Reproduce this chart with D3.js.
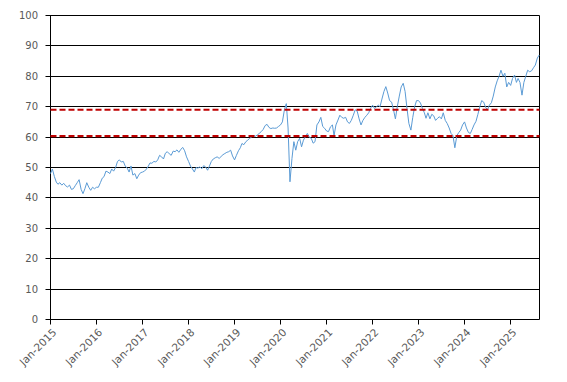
<!DOCTYPE html>
<html>
<head>
<meta charset="utf-8">
<script src="https://cdn.jsdelivr.net/npm/d3@7/dist/d3.min.js"></script>
<style>
  html, body { margin: 0; padding: 0; background: #fff; }
  svg { display: block; }
  text { font-family: "DejaVu Sans", Verdana, sans-serif; font-size: 10px; fill: #595959; }
  .xlab { font-size: 10.5px; }
</style>
</head>
<body>
<svg id="chart" width="567" height="382"></svg>
<script>
// ---- data (semi-monthly readings: 1st and 16th of each month) ----
const years = [2015, 2016, 2017, 2018, 2019, 2020, 2021, 2022, 2023, 2024, 2025];
const v2015 = [48, 49.5, 47, 45.2, 44.5, 45, 44.2, 44.8, 44, 43.6, 44.2, 42.8, 43, 44, 45, 46, 42.8, 41.4, 43, 45, 43.5, 42.5, 43.5, 43];
const v2016 = [43.5, 43.5, 45, 46.5, 47, 48.8, 48.5, 48, 49.5, 48.8, 50, 52, 52.5, 51.8, 52, 50.5, 49.8, 48.5, 50.5, 47.5, 48, 46.3, 47.5, 48.3];
const v2017 = [48.5, 48.8, 49.5, 50.5, 51.5, 51.4, 52, 51.8, 52.5, 54, 53.5, 52.8, 54.7, 55.2, 54.5, 54, 55.4, 55.2, 55.8, 55, 56, 56.6, 55.5, 53.5];
const v2018 = [52, 50.5, 49.5, 48.5, 50, 49.8, 50.2, 49.6, 50.6, 50.2, 49.1, 50.5, 52, 52.8, 53.2, 53.5, 53, 53.6, 54.2, 54.6, 55, 55.2, 55.7, 53.8];
const v2019 = [52.5, 54, 55.5, 56.5, 57.9, 57.5, 58.5, 59, 59.6, 60, 60.5, 60.3, 60.7, 61.2, 61.8, 62.5, 63.8, 64.2, 63.2, 62.8, 63, 62.9, 63, 63.5];
const v2020 = [64, 65, 69, 71, 63, 45.3, 53, 58.5, 55.7, 58.5, 59.6, 56.8, 59, 60.1, 61.2, 60, 59.6, 58, 58.5, 64, 65, 66.5, 63.5, 62.9];
const v2021 = [62, 61.8, 63.4, 64, 60.5, 64, 65.6, 67.2, 66.5, 66.2, 66.5, 65, 64.5, 65.5, 67.2, 69, 68.5, 66, 64, 65.5, 66.5, 67.2, 68, 69.5];
const v2022 = [70.5, 69.4, 70, 70.5, 70, 72.5, 75, 76.6, 74.5, 72, 71.5, 69, 66, 70, 73.5, 76.5, 77.7, 75, 69.5, 64.5, 62.3, 66.5, 70, 72];
const v2023 = [72, 71.2, 69.4, 68, 66.2, 68, 66, 67.5, 67, 65.5, 66.2, 66.7, 66, 68, 65.5, 64.5, 63, 61.2, 60.5, 56.5, 60.5, 61.5, 62.3, 64];
const v2024 = [65, 63, 61.5, 61.2, 62.5, 64, 65.2, 67.5, 70, 72, 71.5, 69.8, 69, 70.5, 71.3, 73.5, 76.5, 78.5, 80, 82, 80, 81, 76.5, 78];
const v2025 = [77, 79.3, 80.4, 78, 79.3, 78, 73.8, 78, 80, 82, 81.5, 81.8, 82.8, 83.7, 86, 87];
const yearValues = [v2015, v2016, v2017, v2018, v2019, v2020, v2021, v2022, v2023, v2024, v2025];

const refLevels = [69.0, 60.3];           // dashed red reference lines
const yTicks = [0, 10, 20, 30, 40, 50, 60, 70, 80, 90, 100];
const xTickLabels = ["Jan-2015", "Jan-2016", "Jan-2017", "Jan-2018", "Jan-2019", "Jan-2020",
                     "Jan-2021", "Jan-2022", "Jan-2023", "Jan-2024", "Jan-2025"];

// ---- build series ----
const series = [];
years.forEach((yr, k) => {
  yearValues[k].forEach((v, i) => {
    series.push({ date: new Date(yr, Math.floor(i / 2), i % 2 ? 16 : 1), value: v });
  });
});
const parseTick = d3.timeParse("%b-%Y");
const tickDates = xTickLabels.map(parseTick);

// ---- layout ----
const svg = d3.select("#chart");
const pL = 50.5, pR = 539.5, pT = 15.5, pB = 319.5;

const x = d3.scaleTime().domain([new Date(2015, 0, 1), new Date(2025, 7, 18)]).range([pL, pR]);
const y = d3.scaleLinear().domain([0, 100]).range([pB, pT]);
const ry = v => Math.round(y(v) - 0.5) + 0.5;
const rx = d => Math.round(x(d) - 0.5) + 0.5;

// gridlines
svg.append("g").selectAll("line").data(yTicks).join("line")
  .attr("x1", pL - 5).attr("x2", pR)
  .attr("y1", d => ry(d)).attr("y2", d => ry(d))
  .attr("stroke", "#000").attr("stroke-width", 1);

// y labels
svg.append("g").selectAll("text").data(yTicks).join("text")
  .attr("x", 38).attr("y", d => y(d)).attr("dy", "0.35em")
  .attr("text-anchor", "end").text(d => d);

// left axis & right border
svg.append("line").attr("x1", pL).attr("x2", pL).attr("y1", pT).attr("y2", pB)
  .attr("stroke", "#000");
svg.append("line").attr("x1", pR).attr("x2", pR).attr("y1", pT).attr("y2", pB)
  .attr("stroke", "#000");

// x axis ticks + labels
const xg = svg.append("g");
xg.selectAll("line").data(tickDates).join("line")
  .attr("x1", rx).attr("x2", rx)
  .attr("y1", pB).attr("y2", pB + 5)
  .attr("stroke", "#000");
xg.selectAll("text").data(tickDates).join("text")
  .attr("class", "xlab")
  .attr("transform", d => `translate(${x(d) + 4},${pB + 11}) rotate(-45)`)
  .attr("text-anchor", "end").attr("dy", "0.35em")
  .text(d3.timeFormat("%b-%Y"));

// data line
const line = d3.line().x(d => x(d.date)).y(d => y(d.value));
svg.append("path").datum(series)
  .attr("d", line).attr("fill", "none")
  .attr("stroke", "#5B9BD5").attr("stroke-width", 1).attr("stroke-linejoin", "round");

// reference lines
svg.append("g").selectAll("line").data(refLevels).join("line")
  .attr("x1", pL).attr("x2", pR)
  .attr("y1", d => y(d)).attr("y2", d => y(d))
  .attr("stroke", "#C00000").attr("stroke-width", 2.2).attr("stroke-dasharray", "6,3");
</script>
</body>
</html>
